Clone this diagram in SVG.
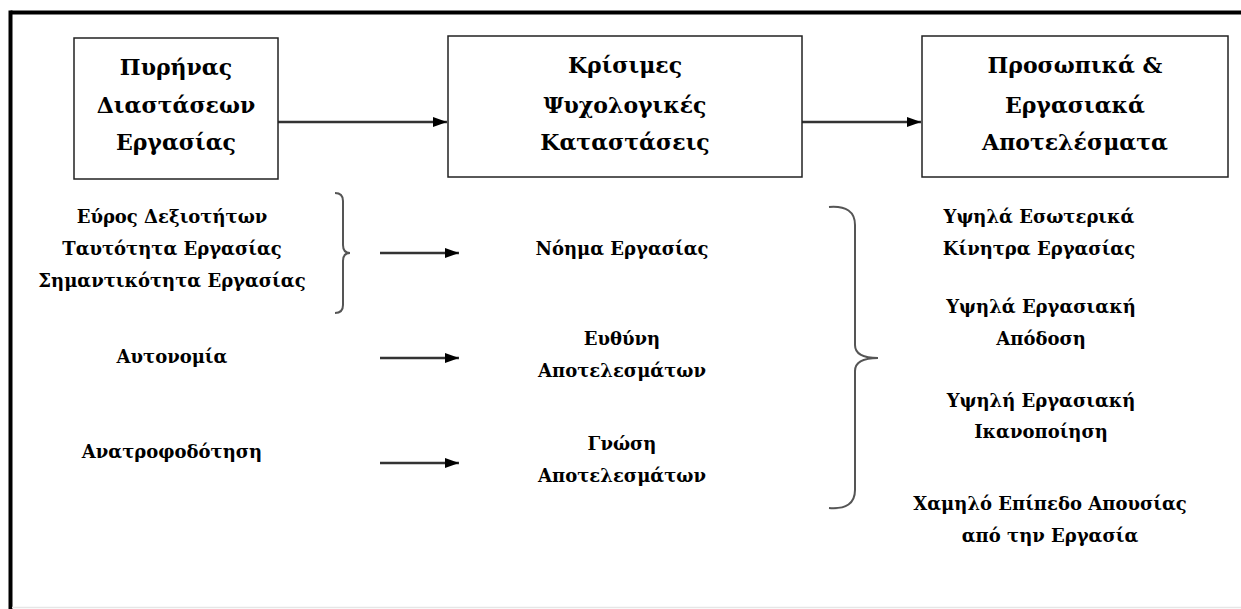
<svg xmlns="http://www.w3.org/2000/svg" width="1241" height="609" viewBox="0 0 1241 609">
<defs>
<marker id="ah" markerWidth="14" markerHeight="12" refX="14" refY="6" orient="auto" markerUnits="userSpaceOnUse">
<path d="M0,1 L14,6 L0,11 Z" fill="#000"/>
</marker>
<style>
.t{font-family:"DejaVu Serif","Liberation Serif",serif;font-weight:bold;fill:#000;text-anchor:middle}
.h{font-size:22px}
.s{font-size:18px}
.box{fill:#fff;stroke:#222;stroke-width:1.5}
.con{stroke:#333;stroke-width:2.5;fill:none}
.br{stroke:#555;stroke-width:2;fill:none}
</style>
</defs>
<rect width="1241" height="609" fill="#fff"/>
<g id="frame">
<line x1="10.5" y1="12.5" x2="1241" y2="12.5" stroke="#000" stroke-width="4"/>
<line x1="10.5" y1="10.5" x2="10.5" y2="609" stroke="#000" stroke-width="4"/>
<line x1="12" y1="607.5" x2="1241" y2="607.5" stroke="#e6e6e6" stroke-width="1.5"/>
</g>
<g id="connectors">
<line class="con" x1="278" y1="122" x2="447" y2="122" marker-end="url(#ah)"/>
<line class="con" x1="802" y1="122" x2="921" y2="122" marker-end="url(#ah)"/>
<line class="con" x1="380" y1="253" x2="459" y2="253" marker-end="url(#ah)"/>
<line class="con" x1="380" y1="358" x2="459" y2="358" marker-end="url(#ah)"/>
<line class="con" x1="380" y1="463" x2="459" y2="463" marker-end="url(#ah)"/>
<path class="br" d="M335,193 Q343,193 343,201 L343,245 Q343,253 350,253 Q343,253 343,261 L343,305 Q343,313 335,313"/>
<path class="br" d="M829,207 Q855,205 855,225 L855,345 Q855,358 878,358 Q855,358 855,371 L855,490 Q855,510 829,508"/>
</g>
<g id="node1">
<rect class="box" x="74" y="38" width="204" height="141"/>
<text class="t h" x="176" y="75">Πυρήνας</text>
<text class="t h" x="176" y="113">Διαστάσεων</text>
<text class="t h" x="176" y="150">Εργασίας</text>
</g>
<g id="node2">
<rect class="box" x="448" y="36" width="354" height="141"/>
<text class="t h" x="625" y="73">Κρίσιμες</text>
<text class="t h" x="625" y="113">Ψυχολογικές</text>
<text class="t h" x="625" y="150">Καταστάσεις</text>
</g>
<g id="node3">
<rect class="box" x="922" y="36" width="306" height="141"/>
<text class="t h" x="1075" y="73">Προσωπικά &amp;</text>
<text class="t h" x="1075" y="113">Εργασιακά</text>
<text class="t h" x="1075" y="150">Αποτελέσματα</text>
</g>
<g id="left-items">
<text class="t s" x="172" y="223">Εύρος Δεξιοτήτων</text>
<text class="t s" x="172" y="255">Ταυτότητα Εργασίας</text>
<text class="t s" x="172" y="287">Σημαντικότητα Εργασίας</text>
<text class="t s" x="172" y="363">Αυτονομία</text>
<text class="t s" x="172" y="458">Ανατροφοδότηση</text>
</g>
<g id="middle-items">
<text class="t s" x="622" y="255">Νόημα Εργασίας</text>
<text class="t s" x="622" y="345">Ευθύνη</text>
<text class="t s" x="622" y="377">Αποτελεσμάτων</text>
<text class="t s" x="622" y="450">Γνώση</text>
<text class="t s" x="622" y="482">Αποτελεσμάτων</text>
</g>
<g id="right-items">
<text class="t s" x="1039" y="223">Υψηλά Εσωτερικά</text>
<text class="t s" x="1039" y="255">Κίνητρα Εργασίας</text>
<text class="t s" x="1041" y="313">Υψηλά Εργασιακή</text>
<text class="t s" x="1041" y="345">Απόδοση</text>
<text class="t s" x="1041" y="407">Υψηλή Εργασιακή</text>
<text class="t s" x="1041" y="438">Ικανοποίηση</text>
<text class="t s" x="1050" y="510">Χαμηλό Επίπεδο Απουσίας</text>
<text class="t s" x="1050" y="542">από την Εργασία</text>
</g>
</svg>
